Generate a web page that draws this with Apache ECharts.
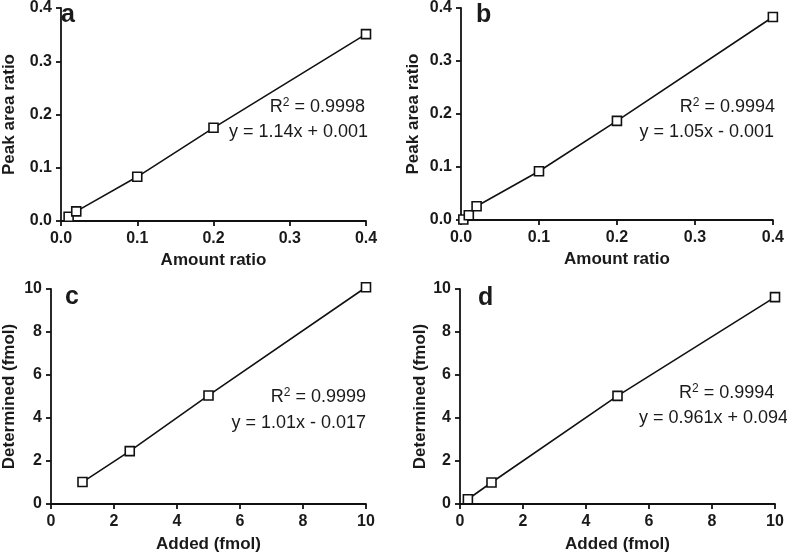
<!DOCTYPE html>
<html>
<head>
<meta charset="utf-8">
<script src="https://cdn.jsdelivr.net/npm/echarts@6/dist/echarts.min.js"></script>
<style>html,body{margin:0;padding:0;background:#fff}#c{width:787px;height:554px}</style>
</head>
<body>
<div id="c"></div>
<script>
// ---- data ----
const aX = [0.01, 0.02, 0.1, 0.2, 0.4];
const aY = [0.008, 0.018, 0.083, 0.175, 0.351];
const bX = [0.003, 0.01, 0.02, 0.1, 0.2, 0.4];
const bY = [0.001, 0.009, 0.026, 0.092, 0.187, 0.383];
const cX = [1, 2.5, 5, 10];
const cY = [1.02, 2.46, 5.05, 10.08];
const dX = [0.25, 1, 5, 10];
const dY = [0.22, 1.0, 5.03, 9.62];
const panelLetters = ['a', 'b', 'c', 'd'];
const r2Labels = ['0.9998', '0.9994', '0.9999', '0.9994'];
const eqLabels = ['y = 1.14x + 0.001', 'y = 1.05x - 0.001', 'y = 1.01x - 0.017', 'y = 0.961x + 0.094'];
const xTitles = ['Amount ratio', 'Amount ratio', 'Added (fmol)', 'Added (fmol)'];
const yTitles = ['Peak area ratio', 'Peak area ratio', 'Determined (fmol)', 'Determined (fmol)'];

const FONT = '"Liberation Sans", Arial, sans-serif';
const TXT = '#1a1a1a';
const grids = [
  {left: 52, top: 6, width: 314, height: 215},
  {left: 461, top: 6, width: 315, height: 214},
  {left: 51, top: 289, width: 315, height: 216},
  {left: 460, top: 289, width: 315, height: 216}
];
const ranges = [
  {max: 0.4, interval: 0.1, dec: 1},
  {max: 0.4, interval: 0.1, dec: 1},
  {max: 10, interval: 2, dec: 0},
  {max: 10, interval: 2, dec: 0}
];
const yGaps = [43, 39, 33, 30];
const xGaps = [31, 31, 32, 32];

function axisCommon(i, isY) {
  const r = ranges[i];
  return {
    gridIndex: i, type: 'value', min: 0, max: r.max, interval: r.interval,
    name: isY ? yTitles[i] : xTitles[i],
    nameLocation: 'middle', nameGap: isY ? yGaps[i] : xGaps[i],
    nameTextStyle: {fontFamily: FONT, fontWeight: 'bold', fontSize: 17, color: TXT},
    axisLine: {show: true, onZero: false, lineStyle: {color: '#111', width: 1.8}},
    axisTick: {show: true, length: 5, lineStyle: {color: '#111', width: 1.8}},
    splitLine: {show: false},
    axisLabel: {fontFamily: FONT, fontWeight: 'bold', fontSize: 16, color: TXT, margin: isY ? 9 : 10,
      formatter: v => v.toFixed(r.dec)}
  };
}

const xs = [aX, bX, cX, dX], ys = [aY, bY, cY, dY];
const series = xs.map((x, i) => ({
  type: 'line', xAxisIndex: i, yAxisIndex: i,
  data: x.map((v, k) => [v, ys[i][k]]),
  symbol: 'rect', symbolSize: 9, showSymbol: true, clip: false,
  lineStyle: {color: '#111', width: 1.6},
  itemStyle: {color: '#fff', borderColor: '#111', borderWidth: 1.6},
  animation: false, silent: true
}));

const letterPos = [[61, 16], [476, 16], [65, 298], [478, 299]];
const r2Pos = [[365, 107, 'right'], [775, 107, 'right'], [366, 397, 'right'], [679, 393, 'left']];
const eqPos = [[368, 132, 'right'], [774, 132, 'right'], [366, 423, 'right'], [639, 418, 'left']];
const graphics = [];
for (let i = 0; i < 4; i++) {
  graphics.push({type: 'text', left: letterPos[i][0], top: letterPos[i][1] - 13,
    style: {text: panelLetters[i], font: 'bold 25px ' + FONT, fill: TXT}});
  graphics.push({type: 'text', x: r2Pos[i][0], y: r2Pos[i][1],
    style: {text: 'R{sup|2} = ' + r2Labels[i], font: '18px ' + FONT, fill: TXT,
      align: r2Pos[i][2], verticalAlign: 'middle',
      rich: {sup: {fontSize: 12, fontFamily: FONT, verticalAlign: 'top', padding: [0, 0, 8, 0], fill: TXT}}}});
  graphics.push({type: 'text', x: eqPos[i][0], y: eqPos[i][1],
    style: {text: eqLabels[i], font: '18px ' + FONT, fill: TXT,
      align: eqPos[i][2], verticalAlign: 'middle'}});
}

const chart = echarts.init(document.getElementById('c'), null, {renderer: 'canvas'});
chart.setOption({
  animation: false,
  backgroundColor: '#fff',
  grid: grids,
  xAxis: [0, 1, 2, 3].map(i => axisCommon(i, false)),
  yAxis: [0, 1, 2, 3].map(i => axisCommon(i, true)),
  series: series,
  graphic: graphics
});
</script>
</body>
</html>
